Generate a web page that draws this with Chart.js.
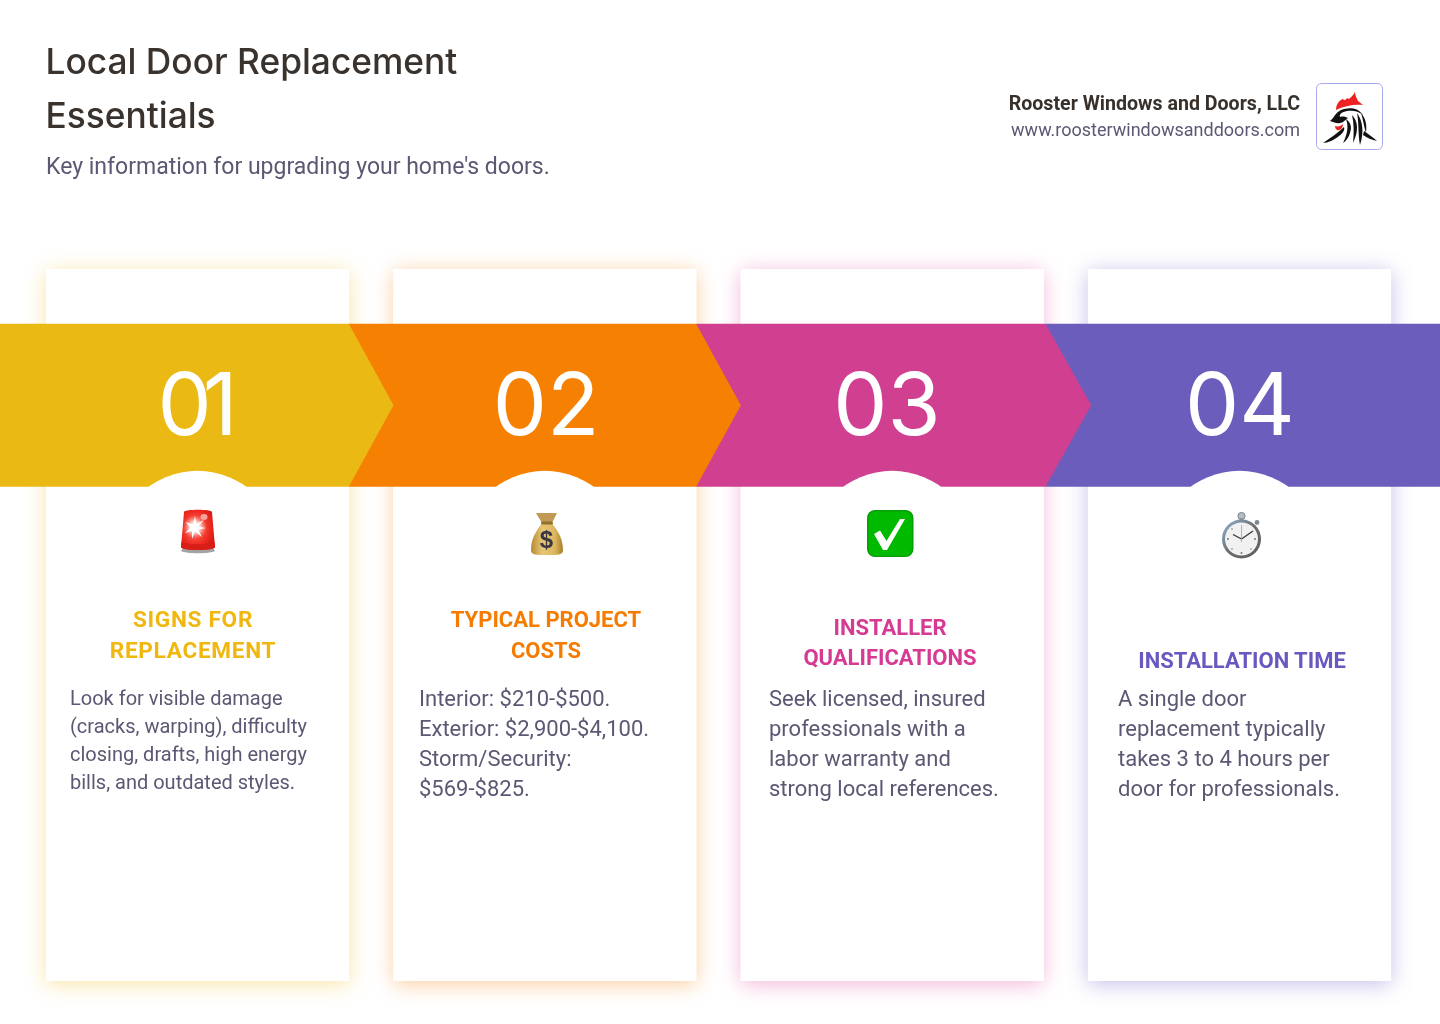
<!DOCTYPE html>
<html lang="en">
  <head>
    <meta charset="UTF-8" />
    <title>Local Door Replacement Essentials</title>
    <style>
      html, body { margin: 0; padding: 0; background: #fff; }
      body { width: 1440px; height: 1024px; position: relative; overflow: hidden; font-family: Roboto, sans-serif; }
      canvas { position: absolute; left: 0; top: 0; }
      .t { position: absolute; white-space: nowrap; }
      #title { left: 45.5px; top: 35px; font: 500 35.3px/54px Inter, sans-serif; color: #3a322c; }
      #sub { left: 46px; top: 153px; font-size: 23px; line-height: 28px; color: #5b5873; }
      #company { right: 140px; top: 92px; font-size: 19.6px; font-weight: 700; line-height: 24px; color: #38302a; }
      #url { right: 140px; top: 118px; font-size: 18px; line-height: 24px; color: #5b5873; }
      .head { font-weight: 700; text-align: center; transform: translateX(-50%); }
      .body { color: #5b5873; }
      svg { position: absolute; overflow: visible; }
    </style>
  </head>
  <body>
    <canvas id="myChart" width="1440" height="1024"></canvas>
    <div id="title" class="t">Local Door Replacement<br />Essentials</div>
    <div id="sub" class="t">Key information for upgrading your home's doors.</div>
    <div id="company" class="t">Rooster Windows and Doors, LLC</div>
    <div id="url" class="t">www.roosterwindowsanddoors.com</div>

    <!-- logo -->
    <svg style="left:1316px;top:83px" width="67" height="67" viewBox="0 0 67 67">
      <rect x="0.5" y="0.5" width="66" height="66" rx="5" fill="#fff" stroke="#a9a9ee" />
      <path d="M20 27 C20 22 23 17 27 16 C28 18 30 17 31 15 C33 17 36 14 39 9 C39 13 41 15 42 18 C43 19 45 20 47 22 C38 21 28 23 20 27Z" fill="#ee2222" />
      <path d="M14 38 C18 35 19 30 25 27 C32 24 42 24 47 32 C43 28 36 27 31 28 C26 29 23 31 24 34 C27 33 30 34 32 35 C29 37 27 40 24 40 C21 41 18 39 14 38Z" fill="#111" />
      <path d="M7 60 C14 55 22 50 28 44 C29 47 27 50 23 53 C18 57 12 60 7 60Z" fill="#111" />
      <path d="M30 36 C35 40 36 44 34 50 C33 54 30 58 27 60 C31 52 33 44 30 36Z" fill="#111" />
      <path d="M36 32 C42 38 43 48 37 60 C38 50 38 40 36 32Z" fill="#111" />
      <path d="M41 30 C47 38 48 50 44 62 C42 52 43 40 41 30Z" fill="#111" />
      <path d="M45 30 C50 36 51 42 50 50 C48 44 47 36 45 30Z" fill="#111" />
      <path d="M48 48 C52 51 57 54 61 58 C56 57 51 55 47 52Z" fill="#111" />
      <path d="M19 43 C22 44 25 43 27 41 C27 45 24 48 21 47 C20 46 19 45 19 43Z" fill="#ee2222" />
    </svg>

    <!-- icons -->
    <svg style="left:180px;top:508px" width="36" height="46" viewBox="0 0 36 46">
      <defs>
        <radialGradient id="sirenBody" cx="0.42" cy="0.45" r="0.7">
          <stop offset="0" stop-color="#ff7a6a" />
          <stop offset="0.6" stop-color="#ee2a20" />
          <stop offset="1" stop-color="#c8140e" />
        </radialGradient>
        <radialGradient id="sirenGlow" cx="0.5" cy="0.5" r="0.5">
          <stop offset="0" stop-color="#fff" />
          <stop offset="0.45" stop-color="#ffe0da" stop-opacity="0.9" />
          <stop offset="1" stop-color="#ff8a7a" stop-opacity="0" />
        </radialGradient>
      </defs>
      <path d="M3 40 L33 40 L35 43 C30 46 6 46 1 43Z" fill="#a3a3a3" />
      <path d="M4 4 C4 1 32 1 32 4 L35 39 C35 43 1 43 1 39Z" fill="url(#sirenBody)" />
      <path d="M1.5 34 C8 37 28 37 34.5 34 L35 39 C35 43 1 43 1 39Z" fill="#d81e16" />
      <circle cx="15" cy="19" r="12" fill="url(#sirenGlow)" />
      <path d="M15 8 L16.5 16 L24 12 L18 18.5 L26 20 L18 21.5 L22 29 L15 23.5 L12 31 L12 23 L5 25 L10.5 19.5 L5.5 14 L13 16.5Z" fill="#fff" />
      <ellipse cx="24" cy="9" rx="3.5" ry="3" fill="#f6a49a" />
    </svg>

    <svg style="left:530px;top:512px" width="34" height="44" viewBox="0 0 34 44">
      <defs>
        <linearGradient id="bagFill" x1="0" y1="0" x2="1" y2="0">
          <stop offset="0" stop-color="#b78a33" />
          <stop offset="0.35" stop-color="#e6c676" />
          <stop offset="0.75" stop-color="#dcb75f" />
          <stop offset="1" stop-color="#a87c2a" />
        </linearGradient>
      </defs>
      <path d="M6 1 L27 1 L22 11 L12 11Z" fill="#c09a55" />
      <path d="M12 11 L22 11 C25 16 33 24 33 38 C33 43 28 43 17 43 C6 43 1 43 1 38 C1 24 9 16 12 11Z" fill="url(#bagFill)" />
      <rect x="11" y="9.5" width="12" height="3" rx="1.5" fill="#93702c" />
      <text x="16.5" y="36" text-anchor="middle" font-family="Liberation Sans" font-weight="700" font-size="24" fill="#3b3742">$</text>
    </svg>

    <svg style="left:867px;top:510px" width="47" height="47" viewBox="0 0 47 47">
      <rect x="0" y="0" width="46.5" height="47" rx="8" fill="#07a007" />
      <rect x="1.5" y="1.5" width="43.5" height="44" rx="7" fill="#00ba00" />
      <path d="M7 24 L13 20.5 L19.5 31 L33 9 L38 9 L20 40 L16 40Z" fill="#fff" />
    </svg>

    <svg style="left:1221px;top:512px" width="42" height="47" viewBox="0 0 42 47">
      <defs>
        <linearGradient id="ringFill" x1="0" y1="0" x2="1" y2="1">
          <stop offset="0" stop-color="#8fb4d8" />
          <stop offset="0.5" stop-color="#6d6d6d" />
          <stop offset="1" stop-color="#5a5a5a" />
        </linearGradient>
      </defs>
      <circle cx="20.5" cy="4" r="3.6" fill="#b4bcc4" stroke="#7a8288" />
      <rect x="18.5" y="6" width="4" height="3" fill="#8b9298" />
      <circle cx="36" cy="10.5" r="2.4" fill="#7c8a96" />
      <circle cx="20.5" cy="27" r="19.5" fill="url(#ringFill)" />
      <circle cx="20.5" cy="27" r="16.5" fill="#f1f1f1" />
      <path d="M20.5 27 L32 19" stroke="#333" stroke-width="1.3" />
      <path d="M20.5 27 L12 22.5" stroke="#333" stroke-width="1.3" />
      <path d="M20.5 13 L20.5 30" stroke="#f08a5a" stroke-width="0.8" />
      <g fill="#777">
        <circle cx="20.5" cy="41" r="1" /><circle cx="7" cy="27" r="1" /><circle cx="34" cy="27" r="1" />
        <circle cx="11" cy="17" r="0.8" /><circle cx="30" cy="37" r="0.8" /><circle cx="11" cy="37" r="0.8" />
      </g>
    </svg>

    <script src="https://cdn.jsdelivr.net/npm/chart.js"></script>
    <script>
      const stepNumbers = ["01", "02", "03", "04"];
      const cardSpan = [[0, 100], [0, 100], [0, 100], [0, 100]];
      const bandSpan = [[69.4, 92.3], [69.4, 92.3], [69.4, 92.3], [69.4, 92.3]];
      const bandColors = ["#ebb914", "#f58002", "#d14090", "#6b5dbb"];
      const glowColors = ["rgba(240,190,40,0.42)", "rgba(245,130,10,0.4)", "rgba(225,70,160,0.4)", "rgba(110,95,200,0.4)"];
      const headColors = ["#f0b70f", "#f57c00", "#d63a92", "#6a58c0"];
      const headings = [
        ["SIGNS FOR", "REPLACEMENT"],
        ["TYPICAL PROJECT", "COSTS"],
        ["INSTALLER", "QUALIFICATIONS"],
        ["INSTALLATION TIME"],
      ];
      const bodies = [
        ["Look for visible damage", "(cracks, warping), difficulty", "closing, drafts, high energy", "bills, and outdated styles."],
        ["Interior: $210-$500.", "Exterior: $2,900-$4,100.", "Storm/Security:", "$569-$825."],
        ["Seek licensed, insured", "professionals with a", "labor warranty and", "strong local references."],
        ["A single door", "replacement typically", "takes 3 to 4 hours per", "door for professionals."],
      ];

      // text placement, the reference is not quite regular about it
      const numberX = [193, 546, 887, 1240];
      const numberSpacing = [-9, 0, 0, 0];
      const headX = [193, 546, 890, 1242];
      const headTop = [604, 604, 613, 645];
      const headLine = [31, 31, 30, 31];
      const headSize = [22.6, 22, 22, 22];
      const headSpacing = [0.7, 0, 0, 0];
      const bodyX = [70, 419, 769, 1118];
      const bodyStyle = ["20px/28px", "22px/30px", "22px/30px", "22px/30px"];
      const bodyTop = [684, 684, 684, 684];

      headings.forEach((lines, i) => {
        const el = document.createElement("div");
        el.className = "t head";
        el.style.left = headX[i] + "px";
        el.style.top = headTop[i] + "px";
        el.style.color = headColors[i];
        el.style.fontSize = headSize[i] + "px";
        el.style.lineHeight = headLine[i] + "px";
        el.style.letterSpacing = headSpacing[i] + "px";
        el.innerHTML = lines.join("<br />");
        document.body.appendChild(el);
      });
      bodies.forEach((lines, i) => {
        const el = document.createElement("div");
        el.className = "t body";
        el.style.left = bodyX[i] + "px";
        el.style.top = bodyTop[i] + "px";
        el.style.font = "400 " + bodyStyle[i] + " Roboto, sans-serif";
        el.innerHTML = lines.join("<br />");
        document.body.appendChild(el);
      });

      const cardGlow = {
        id: "cardGlow",
        beforeDatasetsDraw(chart) {
          const ctx = chart.ctx;
          chart.getDatasetMeta(0).data.forEach((bar, i) => {
            ctx.save();
            ctx.shadowColor = glowColors[i];
            ctx.shadowBlur = 20;
            ctx.shadowOffsetY = 3;
            ctx.fillStyle = "#fff";
            ctx.fillRect(bar.x - bar.width / 2, bar.y, bar.width, bar.base - bar.y);
            ctx.restore();
          });
        },
      };

      // band bars stay transparent, this turns them into arrows overlapping to the right
      const arrows = {
        id: "arrows",
        afterDatasetsDraw(chart) {
          const ctx = chart.ctx;
          const cards = chart.getDatasetMeta(0).data;
          const band = chart.getDatasetMeta(1).data;
          const rightEdge = (i) => cards[i].x + cards[i].width / 2 + (i == 2 ? 2 : 0);
          for (let i = band.length - 1; i >= 0; i--) {
            const bar = band[i];
            const left = i == 0 ? 0 : rightEdge(i - 1);
            const mid = (bar.y + bar.base) / 2;
            ctx.fillStyle = bandColors[i];
            ctx.beginPath();
            ctx.moveTo(left, bar.y);
            if (i == band.length - 1) {
              ctx.lineTo(chart.width, bar.y);
              ctx.lineTo(chart.width, bar.base);
            } else {
              const tip = cards[i + 1].x - cards[i + 1].width / 2;
              ctx.lineTo(rightEdge(i), bar.y);
              ctx.lineTo(tip + (i == 2 ? 3 : 0), mid);
              ctx.lineTo(rightEdge(i), bar.base);
            }
            ctx.lineTo(left, bar.base);
            ctx.closePath();
            ctx.fill();
          }
          band.forEach((bar, i) => {
            ctx.fillStyle = "#fff";
            ctx.beginPath();
            ctx.arc(bar.x, bar.y + 147 + 83, 83, 0, Math.PI * 2);
            ctx.fill();
            ctx.font = "400 86px Inter, sans-serif";
            ctx.letterSpacing = numberSpacing[i] + "px";
            ctx.textAlign = "center";
            ctx.textBaseline = "alphabetic";
            ctx.fillText(stepNumbers[i], numberX[i], 435);
          });
        },
      };

      new Chart("myChart", {
        type: "bar",
        data: {
          labels: stepNumbers,
          datasets: [
            {
              data: cardSpan,
              backgroundColor: "#fff",
              barThickness: 302.6,
              grouped: false,
            },
            {
              data: bandSpan,
              backgroundColor: "rgba(0,0,0,0)",
              barPercentage: 1,
              categoryPercentage: 1,
              grouped: false,
            },
          ],
        },
        options: {
          responsive: false,
          animation: false,
          devicePixelRatio: 1,
          layout: { padding: { left: 23.83, right: 26.83, top: 269, bottom: 43 } },
          plugins: { legend: { display: false }, tooltip: { enabled: false } },
          scales: {
            x: { display: false },
            y: { display: false, min: 0, max: 100 },
          },
        },
        plugins: [cardGlow, arrows],
      });
    </script>
  </body>
</html>
